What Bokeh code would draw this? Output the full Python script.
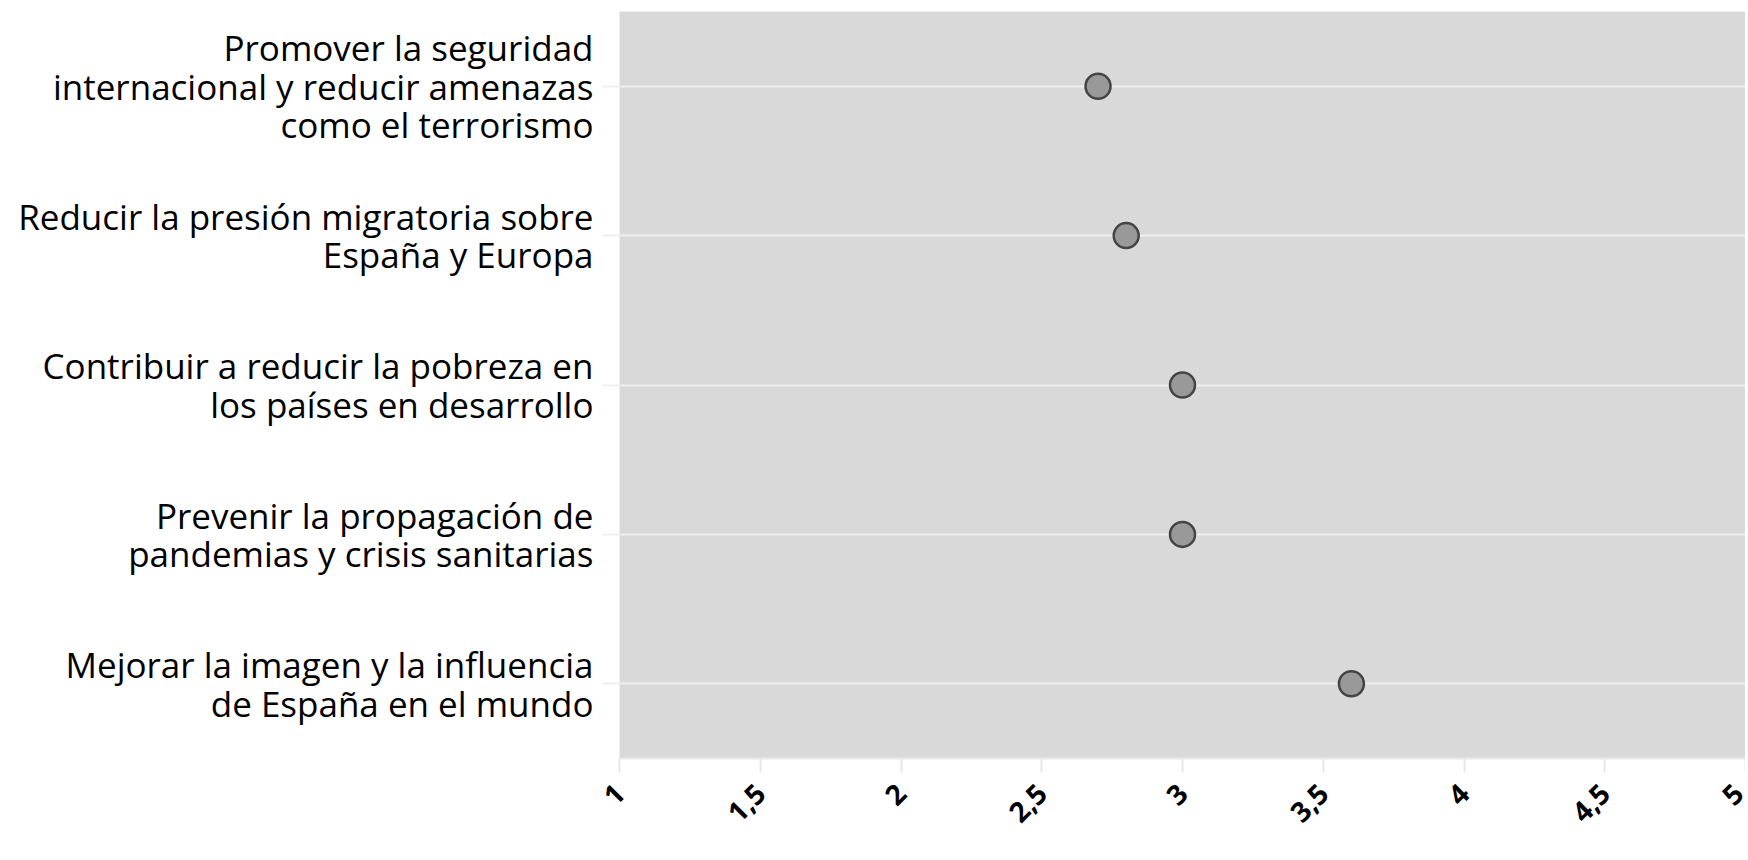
import math
from bokeh.plotting import figure
from bokeh.models import FactorRange, Range1d, FixedTicker
from bokeh.embed import file_html
from bokeh.resources import INLINE

categories = [
    "Promover la seguridad\ninternacional y reducir amenazas\ncomo el terrorismo",
    "Reducir la presión migratoria sobre\nEspaña y Europa",
    "Contribuir a reducir la pobreza en\nlos países en desarrollo",
    "Prevenir la propagación de\npandemias y crisis sanitarias",
    "Mejorar la imagen y la influencia\nde España en el mundo",
]
values = [2.7, 2.8, 3.0, 3.0, 3.6]
x_ticks = [1, 1.5, 2, 2.5, 3, 3.5, 4, 4.5, 5]
x_tick_labels = ["1", "1,5", "2", "2,5", "3", "3,5", "4", "4,5", "5"]

FONT = "Open Sans"

p = figure(
    width=1745, height=860,
    y_range=FactorRange(factors=list(reversed(categories))),
    x_range=Range1d(1, 5),
    output_backend="svg", toolbar_location=None,
    min_border_left=619, min_border_right=0, min_border_top=11, min_border_bottom=102,
)
p.outline_line_color = None
p.background_fill_color = "#d9d9d9"
p.border_fill_color = "white"

p.xgrid.grid_line_color = None
p.ygrid.grid_line_color = "#f0f0f0"
p.ygrid.grid_line_width = 2

p.scatter(x=values, y=categories, size=25, fill_color="#999999",
          line_color="#444444", line_width=2.5)

# x axis
p.xaxis.ticker = FixedTicker(ticks=x_ticks)
p.xaxis.major_label_overrides = {t: l for t, l in zip(x_ticks, x_tick_labels)}
p.xaxis.major_label_orientation = math.pi / 4
p.xaxis.major_label_text_font = FONT
p.xaxis.major_label_text_font_style = "bold"
p.xaxis.major_label_text_font_size = "28px"
p.xaxis.major_label_text_color = "black"
p.xaxis.axis_line_color = "#e8e8e8"
p.xaxis.axis_line_width = 2
p.xaxis.major_tick_line_color = "#e8e8e8"
p.xaxis.major_tick_line_width = 2
p.xaxis.major_tick_in = 0
p.xaxis.major_tick_out = 14
p.xaxis.minor_tick_line_color = None
p.xaxis.major_label_standoff = 16

# y axis
p.yaxis.major_label_text_font = FONT
p.yaxis.major_label_text_font_size = "35px"
p.yaxis.major_label_text_color = "black"
p.yaxis.major_label_text_line_height = 0.82
p.yaxis.axis_line_color = None
p.yaxis.major_tick_line_color = "#f0f0f0"
p.yaxis.major_tick_line_width = 2
p.yaxis.major_tick_in = 0
p.yaxis.major_tick_out = 17
p.yaxis.major_label_standoff = 9

open("out.html", "w").write(file_html(p, INLINE))
